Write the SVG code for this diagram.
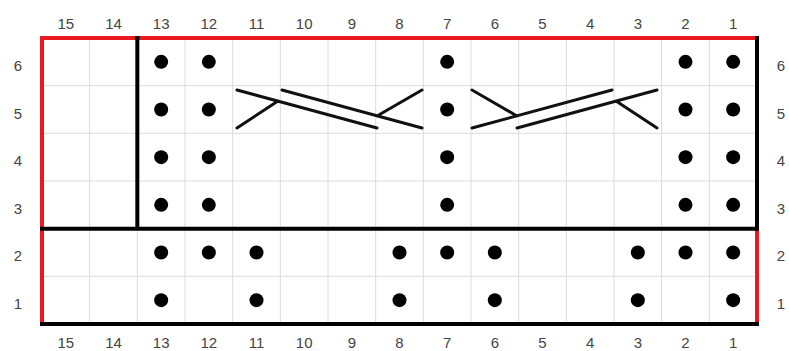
<svg xmlns="http://www.w3.org/2000/svg" width="789" height="351" viewBox="0 0 789 351">
<style>
.grid{stroke:#dcdcdc;stroke-width:1;fill:none}
.red{stroke:#e8191f;stroke-width:4;fill:none;stroke-linecap:square}
.blk{stroke:#000;stroke-width:4;fill:none;stroke-linecap:square}
.cab{stroke:#111;stroke-width:3;fill:none;stroke-linecap:round}
.lbl{font-family:"Liberation Sans",Arial,sans-serif;font-size:15px;fill:#444;text-anchor:middle}
.dot{fill:#000}
</style>
<rect width="789" height="351" fill="#fff"/>
<g id="grid">
<path class="grid" d="M89.67 38V324M137.33 38V324M185 38V324M232.67 38V324M280.33 38V324M328 38V324M375.67 38V324M423.33 38V324M471 38V324M518.67 38V324M566.33 38V324M614 38V324M661.67 38V324M709.33 38V324"/>
<path class="grid" d="M42 85.67H757M42 133.33H757M42 181H757M42 228.67H757M42 276.33H757"/>
</g>
<g id="cables">
<path class="cab" d="M237 90L377 128M282 90L422 128M237 128L278 101M377 116L422 90"/>
<path class="cab" d="M657 90L517 128M612 90L472 128M657 128L616 101M517 116L472 90"/>
</g>
<g id="dots" class="dot">
<circle cx="161.17" cy="61.83" r="7"/><circle cx="208.83" cy="61.83" r="7"/><circle cx="447.17" cy="61.83" r="7"/><circle cx="685.5" cy="61.83" r="7"/><circle cx="733.17" cy="61.83" r="7"/>
<circle cx="161.17" cy="109.5" r="7"/><circle cx="208.83" cy="109.5" r="7"/><circle cx="447.17" cy="109.5" r="7"/><circle cx="685.5" cy="109.5" r="7"/><circle cx="733.17" cy="109.5" r="7"/>
<circle cx="161.17" cy="157.17" r="7"/><circle cx="208.83" cy="157.17" r="7"/><circle cx="447.17" cy="157.17" r="7"/><circle cx="685.5" cy="157.17" r="7"/><circle cx="733.17" cy="157.17" r="7"/>
<circle cx="161.17" cy="204.83" r="7"/><circle cx="208.83" cy="204.83" r="7"/><circle cx="447.17" cy="204.83" r="7"/><circle cx="685.5" cy="204.83" r="7"/><circle cx="733.17" cy="204.83" r="7"/>
<circle cx="161.17" cy="252.5" r="7"/><circle cx="208.83" cy="252.5" r="7"/><circle cx="256.5" cy="252.5" r="7"/><circle cx="399.5" cy="252.5" r="7"/><circle cx="447.17" cy="252.5" r="7"/><circle cx="494.83" cy="252.5" r="7"/><circle cx="637.83" cy="252.5" r="7"/><circle cx="685.5" cy="252.5" r="7"/><circle cx="733.17" cy="252.5" r="7"/>
<circle cx="161.17" cy="300.17" r="7"/><circle cx="256.5" cy="300.17" r="7"/><circle cx="399.5" cy="300.17" r="7"/><circle cx="494.83" cy="300.17" r="7"/><circle cx="637.83" cy="300.17" r="7"/><circle cx="733.17" cy="300.17" r="7"/>
</g>
<g id="borders">
<path class="red" d="M42 324V38H757M757 228.67V324"/>
<path class="blk" d="M757 38V228.67M42 228.67H757M137.33 38V228.67M42 324H757"/>
</g>
<g id="labels" class="lbl">
<text x="65.83" y="29">15</text><text x="113.5" y="29">14</text><text x="161.17" y="29">13</text><text x="208.83" y="29">12</text><text x="256.5" y="29">11</text><text x="304.17" y="29">10</text><text x="351.83" y="29">9</text><text x="399.5" y="29">8</text><text x="447.17" y="29">7</text><text x="494.83" y="29">6</text><text x="542.5" y="29">5</text><text x="590.17" y="29">4</text><text x="637.83" y="29">3</text><text x="685.5" y="29">2</text><text x="733.17" y="29">1</text>
<text x="65.83" y="348">15</text><text x="113.5" y="348">14</text><text x="161.17" y="348">13</text><text x="208.83" y="348">12</text><text x="256.5" y="348">11</text><text x="304.17" y="348">10</text><text x="351.83" y="348">9</text><text x="399.5" y="348">8</text><text x="447.17" y="348">7</text><text x="494.83" y="348">6</text><text x="542.5" y="348">5</text><text x="590.17" y="348">4</text><text x="637.83" y="348">3</text><text x="685.5" y="348">2</text><text x="733.17" y="348">1</text>
<text x="18" y="71">6</text><text x="18" y="118.5">5</text><text x="18" y="166">4</text><text x="18" y="213.5">3</text><text x="18" y="261">2</text><text x="18" y="309">1</text>
<text x="781" y="71">6</text><text x="781" y="118.5">5</text><text x="781" y="166">4</text><text x="781" y="213.5">3</text><text x="781" y="261">2</text><text x="781" y="309">1</text>
</g>
</svg>
